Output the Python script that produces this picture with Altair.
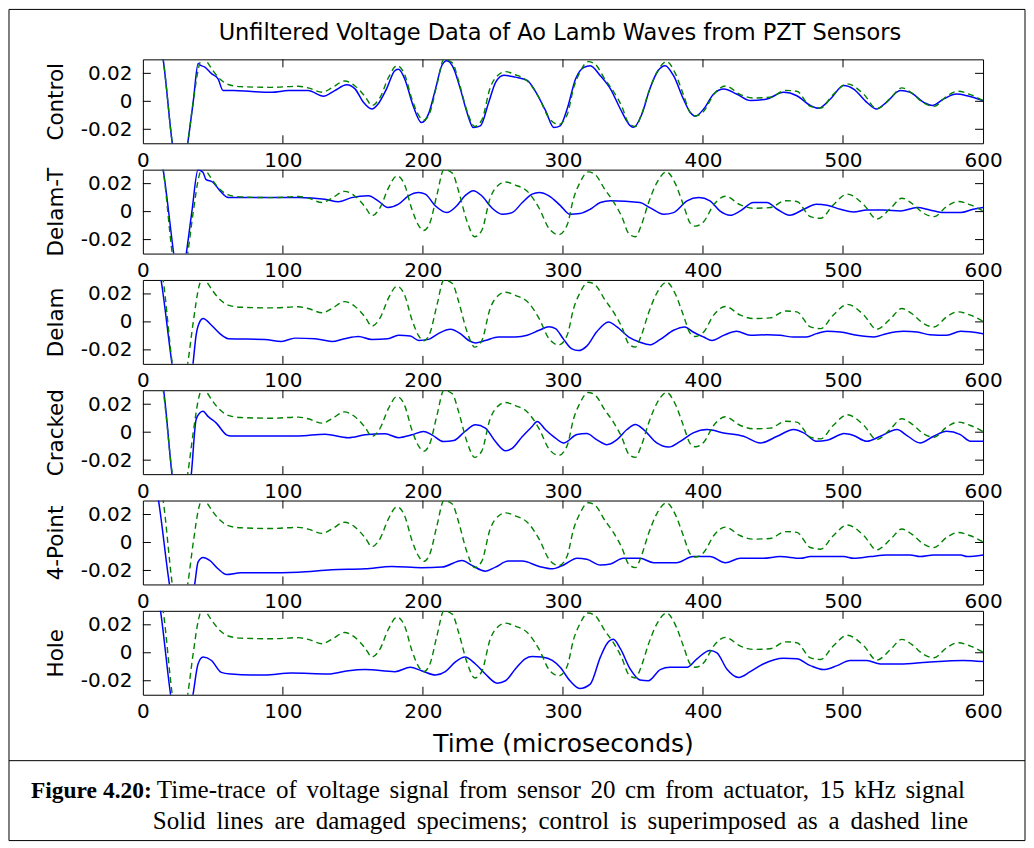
import altair as alt
import pandas as pd

# ---------------- data ----------------
panel_names = ["Control", "Delam-T", "Delam", "Cracked", "4-Point", "Hole"]
x_ticks = [0, 100, 200, 300, 400, 500, 600]
inner_x_ticks = [100, 200, 300, 400, 500]
y_ticks = [-0.02, 0.0, 0.02]

# control specimen (green dashed, superimposed in every panel): (time us, volts)
control = [
    (0, 0.08), (14.5, 0.03), (21, -0.03), (26, -0.06), (32, -0.03), (36, 0.0),
    (40, 0.025), (43, 0.032), (46, 0.028), (50, 0.022), (55, 0.016), (61, 0.012),
    (70, 0.0105), (92, 0.010), (111, 0.0108), (118, 0.0096), (128, 0.0065),
    (135, 0.0096), (144, 0.0145), (151.5, 0.011), (159, 0.003), (163.5, -0.003),
    (169.5, 0.003), (175.4, 0.017), (181.5, 0.0255), (187, 0.019), (192, 0.002),
    (197, -0.010), (200.5, -0.0135), (205, -0.008), (210, 0.012), (215, 0.030),
    (221, 0.0275), (225.5, 0.0145), (231.5, -0.007), (237, -0.018), (242, -0.0135),
    (248, 0.0096), (254, 0.019), (259, 0.0212), (266, 0.019), (274.5, 0.0145),
    (283, 0.0024), (290, -0.012), (297, -0.0165), (303, -0.0096), (307.6, 0.0096),
    (312, 0.0205), (318, 0.0284), (323, 0.0265), (330, 0.0157), (336, 0.0072),
    (342, -0.0036), (347, -0.0157), (351.7, -0.018), (356, -0.0096), (361, 0.006),
    (367, 0.0205), (374, 0.0284), (380, 0.0205), (386, 0.0048), (391, -0.0084),
    (394.5, -0.0104), (400.5, -0.0072), (407.6, 0.0048), (416, 0.011),
    (426.7, 0.0048), (436, 0.0024), (448, 0.0029), (459, 0.0078), (467, 0.0072),
    (476.7, -0.0036), (484, -0.0048), (493, 0.0048), (503, 0.0125), (515, 0.0048),
    (524, -0.0053), (534, 0.0024), (542, 0.0096), (549, 0.006), (557.6, -0.0012),
    (565, -0.0036), (574, 0.0036), (582, 0.0072), (591, 0.0048), (600, 0.0005),
]

control_solid = [
    (0, 0.08), (14.5, 0.03), (21, -0.03), (26, -0.06), (32, -0.03), (36, 0.0),
    (39.5, 0.027), (41, 0.0258), (44, 0.0246), (49, 0.0198), (53.7, 0.016),
    (57.3, 0.0077), (65, 0.0077), (77.6, 0.007), (92, 0.0065), (104, 0.0077),
    (118, 0.0077), (129, 0.0036), (137, 0.0077), (145.6, 0.0118), (151.5, 0.0089),
    (157.5, -0.0007), (163.5, -0.0055), (168, -0.0019), (174, 0.0089), (180, 0.022),
    (182.6, 0.0229), (187, 0.016), (193, -0.0031), (199, -0.0152), (204, -0.009),
    (209, 0.0089), (213.6, 0.0258), (217, 0.029), (222, 0.0234), (226.7, 0.0089),
    (231.5, -0.008), (236, -0.0188), (241, -0.0176), (247, -0.0007), (252, 0.0137),
    (257.8, 0.0186), (266, 0.0173), (274.5, 0.015), (280, 0.0077), (287.6, -0.0067),
    (293.6, -0.0188), (298, -0.0176), (303, -0.0055), (309, 0.016), (315, 0.0243),
    (319.5, 0.0255), (326.7, 0.0183), (334, 0.0088), (341, -0.0055), (348, -0.0174),
    (350.5, -0.0186), (356.4, -0.009), (362, 0.0088), (368, 0.022), (373, 0.0255),
    (379, 0.0183), (386, 0.0017), (391, -0.008), (394.5, -0.0107), (400.5, -0.0055),
    (407.6, 0.0052), (414.8, 0.0088), (424, 0.0052), (434, 0.0005), (445.7, 0.0017),
    (457.6, 0.0064), (467, 0.004), (476.7, -0.003), (482.6, -0.005), (491, 0.0017),
    (500.5, 0.0113), (507.6, 0.0088), (517, -0.0007), (524, -0.0055), (531, -0.0007),
    (541, 0.0077), (548, 0.0064), (557.6, -0.0007), (563.6, -0.003), (572, 0.0017),
    (581, 0.0052), (588.6, 0.004), (600, 0.0005),
]

delam_t = [
    (0, 0.08), (14.5, 0.03), (22, -0.03), (26, -0.06), (31, -0.03), (35, 0.0),
    (39.4, 0.03), (43, 0.028), (45, 0.023), (50, 0.021), (55, 0.015), (61, 0.010),
    (87, 0.010), (111, 0.010), (130, 0.0089), (139.6, 0.007), (149, 0.010),
    (161, 0.0113), (168, 0.0077), (175, 0.0029), (182.6, 0.0053), (189.7, 0.0113),
    (197, 0.0137), (201.7, 0.0125), (209, 0.004), (217, -0.0007), (224, 0.004),
    (230, 0.0113), (236, 0.015), (242, 0.0113), (249, 0.0029), (256.6, -0.0019),
    (263.7, -0.0007), (271, 0.0065), (278, 0.0125), (283, 0.0137), (290, 0.0113),
    (298, 0.0045), (305, -0.0019), (312, -0.0014), (319.5, 0.0017), (326.7, 0.0065),
    (334, 0.0077), (355, 0.0065), (362, 0.0029), (372, -0.0019), (379, -0.0007),
    (388.6, 0.0077), (397, 0.010), (405, 0.0077), (412, 0.0005), (419.5, -0.0026),
    (426.7, 0.0005), (436, 0.0065), (445.7, 0.0065), (453, 0.0017), (462, -0.0026),
    (472, 0.0017), (481, 0.0053), (488.6, 0.0046), (498, 0.0017), (507.6, -0.0002),
    (517, 0.0012), (529, 0.0012), (541, 0.0005), (553, 0.0029), (562, 0.0012),
    (572, -0.0007), (584, -0.0007), (593, 0.0017), (600, 0.0029),
]

delam = [
    (0, 0.08), (13, 0.03), (20.8, -0.03), (27, -0.07), (35.8, -0.03), (38, -0.0096),
    (40.6, 0.0), (43, 0.0024), (49, -0.0024), (55, -0.0084), (61, -0.012),
    (87, -0.0125), (99, -0.014), (108.6, -0.0116), (123, -0.012), (135, -0.014),
    (144, -0.012), (154, -0.0104), (163.5, -0.0125), (175, -0.012), (182.6, -0.0096),
    (191, -0.0101), (197, -0.0133), (204, -0.0125), (211, -0.0084), (219.6, -0.0053),
    (226.7, -0.0084), (232.7, -0.0133), (237.5, -0.015), (244.6, -0.0133),
    (254, -0.0108), (266, -0.0108), (274.5, -0.0096), (283, -0.006), (290, -0.0035),
    (294.7, -0.0048), (300.5, -0.0125), (306.4, -0.0193), (311, -0.0205),
    (317, -0.0173), (324, -0.0072), (332.6, 0.0), (338.6, -0.0036), (347, -0.0108),
    (355, -0.0145), (362, -0.0164), (369.5, -0.0125), (379, -0.006), (387, -0.0036),
    (393, -0.0072), (400.5, -0.0108), (406.4, -0.0133), (414.8, -0.0096),
    (424, -0.0067), (433.8, -0.0096), (445.7, -0.0092), (455, -0.0096),
    (464.8, -0.0108), (474, -0.0108), (481, -0.0084), (488.6, -0.0067),
    (498, -0.0072), (510, -0.0096), (522, -0.0108), (531, -0.0084), (543, -0.0067),
    (553, -0.0072), (562, -0.0092), (574, -0.0096), (584, -0.0067), (600, -0.0084),
]

cracked = [
    (0, 0.08), (14.8, 0.03), (20.8, -0.03), (27, -0.07), (34.6, -0.03), (38, 0.009),
    (40.6, 0.0137), (43, 0.0149), (46.5, 0.0113), (52.5, 0.0065), (59.7, -0.0019),
    (63, -0.0027), (111, -0.0027), (130, -0.0014), (146.8, -0.0039), (158.7, -0.0019),
    (173, -0.0012), (182.6, -0.0039), (192, -0.0019), (200.5, 0.0005), (206.4, -0.0019),
    (214.8, -0.0067), (222, -0.006), (230, 0.0005), (237.5, 0.0053), (244.6, 0.0029),
    (251.8, -0.0067), (259, -0.0133), (263.7, -0.0116), (271, -0.0031), (278, 0.0041),
    (281.6, 0.0077), (287.6, 0.0017), (294.7, -0.0043), (300.5, -0.0077),
    (310, -0.0017), (317, -0.001), (324, -0.0053), (331.4, -0.0089), (338.6, -0.0053),
    (345.7, 0.0019), (351.7, 0.0055), (357.6, 0.0019), (367, -0.0077),
    (375.5, -0.0106), (383.8, -0.0065), (393, -0.0005), (403, 0.0019),
    (414.8, -0.0005), (429, -0.0029), (441, -0.0077), (453, -0.0029), (464.8, 0.0019),
    (472, -0.0005), (481, -0.0065), (488.6, -0.0058), (498, -0.0017), (500.5, -0.001),
    (507.6, -0.0024), (517, -0.0065), (526.7, -0.0029), (538.6, 0.0019),
    (545.7, -0.0024), (555, -0.0077), (564.8, -0.0029), (574, 0.0007),
    (583.8, -0.0017), (591, -0.0065), (600, -0.0065),
]

four_point = [
    (0, 0.08), (11.2, 0.03), (19, -0.03), (27, -0.07), (37, -0.03), (39.4, -0.014),
    (43, -0.0108), (47.7, -0.0128), (53.7, -0.0188), (59.7, -0.0229), (70, -0.0217),
    (87, -0.0217), (111, -0.0212), (135, -0.0195), (158.7, -0.0188), (177.8, -0.0171),
    (199, -0.018), (213.6, -0.0176), (228, -0.0128), (235, -0.0164), (244.6, -0.0205),
    (251.8, -0.0176), (261, -0.0133), (271, -0.0133), (283, -0.0171), (292.4, -0.0188),
    (300.5, -0.0161), (310, -0.0113), (317, -0.012), (326.7, -0.0161), (334, -0.0154),
    (343, -0.0113), (355, -0.0113), (364.8, -0.0145), (381, -0.0145), (393, -0.0101),
    (405, -0.0101), (416, -0.0145), (426.7, -0.0113), (443, -0.0113), (455, -0.0101),
    (469.5, -0.0113), (476.7, -0.0101), (500.5, -0.0101), (507.6, -0.0113),
    (519.5, -0.0101), (531, -0.0089), (548, -0.0089), (555, -0.0101),
    (564.8, -0.0089), (584, -0.0089), (588.6, -0.0101), (600, -0.0089),
]

hole = [
    (0, 0.08), (12.6, 0.03), (19.8, -0.03), (27, -0.07), (35.8, -0.03), (39.4, -0.008),
    (43, -0.0031), (49, -0.0055), (56, -0.014), (63, -0.0152), (77.6, -0.0159),
    (87, -0.0159), (106, -0.0145), (132.5, -0.0152), (146.8, -0.0128), (158.7, -0.012),
    (180, -0.0135), (191, -0.0104), (199, -0.0128), (209, -0.0159), (216, -0.0135),
    (223, -0.0067), (230, -0.0031), (237.5, -0.008), (244.6, -0.0152), (253, -0.0217),
    (259, -0.020), (266, -0.0116), (273, -0.0043), (278, -0.0027), (285, -0.0031),
    (292.4, -0.0055), (298, -0.0104), (305, -0.020), (312, -0.0255), (319.5, -0.0224),
    (326.7, -0.0031), (331.4, 0.0065), (336, 0.0096), (341, 0.0029), (348, -0.0116),
    (355, -0.0195), (361, -0.020), (369.5, -0.012), (376.4, -0.0104), (388.6, -0.0104),
    (395.7, -0.0043), (405, 0.0017), (410, 0.0), (417, -0.0116), (425.5, -0.0176),
    (433.8, -0.0135), (443, -0.008), (457.6, -0.0039), (467, -0.0043), (476.7, -0.0092),
    (486, -0.012), (495.7, -0.0092), (505, -0.0055), (517, -0.0055), (526.7, -0.008),
    (541, -0.008), (560, -0.0067), (586, -0.0055), (600, -0.0063),
]

damaged_series = [control_solid, delam_t, delam, cracked, four_point, hole]

chart_title = "Unfiltered Voltage Data of Ao Lamb Waves from PZT Sensors"
x_title = "Time (microseconds)"
caption_label = "Figure 4.20:"
caption_line1 = "Time-trace of voltage signal from sensor 20 cm from actuator, 15 kHz signal"
caption_line2 = "Solid lines are damaged specimens; control is superimposed as a dashed line"

# ---------------- styling ----------------
W, H = 841, 84
GAP = 26.4
GREEN = "#008000"
BLUE = "#0000ff"
SANS = "DejaVu Sans"
SERIF = "Liberation Serif"
CAP_SIZE = 25
LABEL_SIZE = 23.5

# Times / Liberation Serif advance widths (1/1000 em), used to justify the caption lines
TIMES_W = {
    " ": 250, ",": 250, "-": 333, ".": 250, ":": 278, ";": 278,
    "0": 500, "1": 500, "2": 500, "3": 500, "4": 500, "5": 500, "6": 500, "7": 500,
    "8": 500, "9": 500,
    "A": 722, "B": 667, "C": 667, "D": 722, "E": 611, "F": 556, "G": 722, "H": 722,
    "I": 333, "J": 389, "K": 722, "L": 611, "M": 889, "N": 722, "O": 722, "P": 556,
    "Q": 722, "R": 667, "S": 556, "T": 611, "U": 722, "V": 722, "W": 944, "X": 722,
    "Y": 722, "Z": 611,
    "a": 444, "b": 500, "c": 444, "d": 500, "e": 444, "f": 333, "g": 500, "h": 500,
    "i": 278, "j": 278, "k": 500, "l": 278, "m": 778, "n": 500, "o": 500, "p": 500,
    "q": 500, "r": 333, "s": 389, "t": 278, "u": 500, "v": 500, "w": 722, "x": 500,
    "y": 500, "z": 444,
}


def justified(text, x0, x1, size):
    words = text.split(" ")
    widths = [sum(TIMES_W.get(c, 500) for c in w) / 1000.0 * size for w in words]
    gap = (x1 - x0 - sum(widths)) / max(len(words) - 1, 1)
    out, x = [], x0
    for w, wd in zip(words, widths):
        out.append((w, x))
        x += wd + gap
    return out


xscale = alt.Scale(domain=[0, 600], nice=False, zero=False)
yscale = alt.Scale(domain=[-0.03, 0.03], nice=False, zero=False)
label_expr = ("datum.value == 0 ? '0' : (datum.value < 0 ? '-' : '') + "
              "format(abs(datum.value), '.2f')")

df_control = pd.DataFrame(control, columns=["t", "v"])
df_xt = pd.DataFrame({"t": inner_x_ticks})
df_yt = pd.DataFrame({"v": y_ticks})


def text_layer(s, x, y, size, font, weight="normal", align="left", baseline="alphabetic"):
    return alt.Chart(pd.DataFrame({"s": [s]})).mark_text(
        align=align, baseline=baseline, font=font, fontSize=size,
        fontWeight=weight, color="black"
    ).encode(x=alt.value(x), y=alt.value(y), text="s:N")


def make_panel(i):
    name = panel_names[i]
    last = i == len(panel_names) - 1
    df_d = pd.DataFrame(damaged_series[i], columns=["t", "v"])

    xaxis_kw = dict(values=x_ticks, labelFlush=False, labelPadding=7, ticks=False,
                    domain=False, grid=False)
    if last:
        xaxis = alt.Axis(title=x_title, titlePadding=10, titleFontSize=25, **xaxis_kw)
    else:
        xaxis = alt.Axis(title=None, **xaxis_kw)
    yaxis = alt.Axis(values=y_ticks, title=name, labelExpr=label_expr, labelPadding=11,
                     titlePadding=13, ticks=False, domain=False, grid=False)

    X = alt.X("t:Q", scale=xscale, axis=xaxis)
    Y = alt.Y("v:Q", scale=yscale, axis=yaxis)

    solid = alt.Chart(df_d).mark_line(
        color=BLUE, strokeWidth=1.5, clip=True, interpolate="monotone"
    ).encode(x=X, y=Y)
    dashed = alt.Chart(df_control).mark_line(
        color=GREEN, strokeWidth=1.4, strokeDash=[6, 4], clip=True, interpolate="monotone"
    ).encode(x=X, y=Y)

    tb = alt.Chart(df_xt).mark_rule(color="black").encode(
        x=X, y=alt.value(H), y2=alt.value(H - 8))
    tt = alt.Chart(df_xt).mark_rule(color="black").encode(
        x=X, y=alt.value(0), y2=alt.value(8))
    tl = alt.Chart(df_yt).mark_rule(color="black").encode(
        y=Y, x=alt.value(0), x2=alt.value(8))
    tr = alt.Chart(df_yt).mark_rule(color="black").encode(
        y=Y, x=alt.value(W - 8), x2=alt.value(W))

    layers = [solid, dashed, tb, tt, tl, tr]

    if i == 0:
        layers.append(text_layer(chart_title, W / 2 - 3, -26, 22.5, SANS,
                                 align="center", baseline="middle"))

    if last:
        one = pd.DataFrame({"k": [0]})
        border = alt.Chart(one).mark_rect(
            fillOpacity=0, stroke="black", strokeWidth=1
        ).encode(x=alt.value(-134), x2=alt.value(883), y=alt.value(-602), y2=alt.value(230))
        sep = alt.Chart(one).mark_rule(color="black", strokeWidth=1).encode(
            x=alt.value(-134), x2=alt.value(883), y=alt.value(150))
        layers += [border, sep]
        layers.append(text_layer(caption_label, -112, 187, LABEL_SIZE, SERIF, weight="bold"))
        for w, x in justified(caption_line1, 14, 823, CAP_SIZE):
            layers.append(text_layer(w, x, 187, CAP_SIZE, SERIF))
        for w, x in justified(caption_line2, 10, 826, CAP_SIZE):
            layers.append(text_layer(w, x, 218, CAP_SIZE, SERIF))

    return alt.layer(*layers).properties(width=W, height=H)


chart = alt.vconcat(*[make_panel(i) for i in range(len(panel_names))],
                    spacing=GAP, bounds="flush").properties(
    padding=0, background="white"
).configure_view(
    stroke="black", strokeWidth=1
).configure_axis(
    labelFont=SANS, labelFontSize=20, labelColor="black",
    titleFont=SANS, titleFontSize=21.5, titleFontWeight="normal", titleColor="black"
)

chart.save("out.html", embed_options={"renderer": "svg", "actions": False})
